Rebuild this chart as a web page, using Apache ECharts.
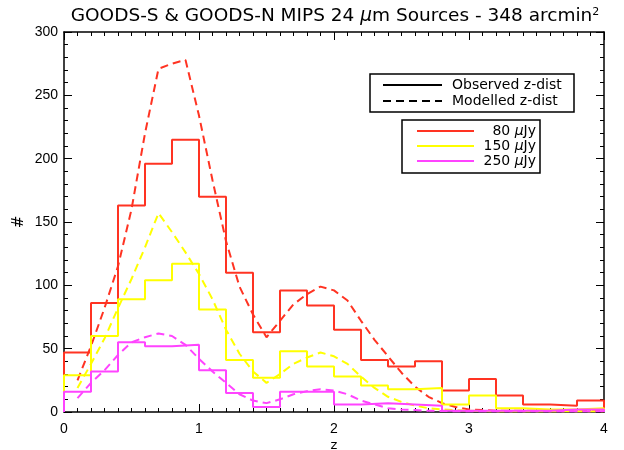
<!DOCTYPE html>
<html>
<head>
<meta charset="utf-8">
<script src="https://cdn.jsdelivr.net/npm/echarts@6/dist/echarts.min.js"></script>
<style>
  html, body { margin: 0; padding: 0; background: #fff; }
  #chart { width: 624px; height: 450px; }
</style>
</head>
<body>
<div id="chart"></div>
<script>
// Redshift bins (left edges, width 0.2) for the observed histograms
var binEdges = [0.0, 0.2, 0.4, 0.6, 0.8, 1.0, 1.2, 1.4, 1.6, 1.8, 2.0,
                2.2, 2.4, 2.6, 2.8, 3.0, 3.2, 3.4, 3.6, 3.8, 4.0];

// Observed counts per bin, by 24 um flux limit
var obs80  = [47, 86, 163, 196, 215, 170, 110, 63, 96, 84, 65, 41, 36, 40, 17, 26, 13, 6, 5, 9];
var obs150 = [29, 60, 89, 104, 117, 81, 41, 27, 48, 36, 28, 21, 18, 19, 6, 13, 3, 2, 2, 3];
var obs250 = [16, 32, 55, 52, 53, 33, 15, 4, 16, 16, 6, 7, 6, 5, 1, 1, 1, 1, 2, 2];

// Model redshift grid and predicted counts
var zModel = [0.1, 0.2, 0.3, 0.4, 0.5, 0.6, 0.7, 0.8, 0.9, 1.0,
              1.1, 1.2, 1.3, 1.4, 1.5, 1.6, 1.7, 1.8, 1.9, 2.0,
              2.1, 2.2, 2.3, 2.4, 2.5, 2.6, 2.7, 2.8, 2.9, 3.0,
              3.1, 3.2, 3.3, 3.4, 3.5, 3.6, 3.7, 3.8, 3.9, 4.0];
var mod80  = [25, 52, 82, 115, 160, 220, 271, 275, 278, 234,
              183, 135, 99, 77, 59, 72, 85, 93, 99, 96,
              88, 72, 57, 44, 31, 20, 12, 7, 4, 2,
              1.5, 1, 1, 1, 1, 1, 1, 1, 1, 1];
var mod150 = [19, 38, 58, 82, 105, 130, 157, 142, 126, 109,
              89, 65, 46, 32, 23, 30, 38, 43, 47, 44,
              38, 28, 19, 12, 8, 5, 3, 2, 1.5, 1,
              0.8, 0.6, 0.5, 0.5, 0.5, 0.5, 0.5, 0.5, 0.5, 0.5];
var mod250 = [11, 23, 33, 45, 55, 59, 62, 60, 53, 42,
              32, 23, 14, 9, 7, 10, 14, 16.5, 18, 17,
              14, 9, 6, 3, 2, 1.5, 1, 0.8, 0.6, 0.5,
              0.5, 0.5, 0.5, 0.5, 0.5, 0.5, 0.5, 0.5, 0.5, 0.5];

var xTicks = [0, 1, 2, 3, 4];
var yTicks = [0, 50, 100, 150, 200, 250, 300];

var RED = '#ff3322', YELLOW = '#ffff00', MAGENTA = '#ff44ff';
var NUM_FONT = 'Liberation Sans';
var TXT_FONT = 'DejaVu Sans';

// Build a closed step outline: start at zero, one level per bin, drop back at the end
function stepData(counts) {
  var pts = [[binEdges[0], 0]];
  for (var i = 0; i < counts.length; i++) pts.push([binEdges[i], counts[i]]);
  pts.push([binEdges[binEdges.length - 1], counts[counts.length - 1]]);
  pts.push([binEdges[binEdges.length - 1], 0]);
  return pts;
}
function curveData(vals) {
  return zModel.map(function (z, i) { return [z, vals[i]]; });
}

function obsSeries(counts, color) {
  return {
    type: 'line', step: 'end', data: stepData(counts), symbol: 'none',
    lineStyle: { color: color, width: 2 }, animation: false
  };
}
function modSeries(vals, color) {
  return {
    type: 'line', data: curveData(vals), symbol: 'none',
    lineStyle: { color: color, width: 2, type: [8, 5] }, animation: false
  };
}

var tickStyle = { color: '#000', width: 1 };
function xAxisDef(pos, labels) {
  return {
    type: 'value', position: pos, min: 0, max: 4, interval: 1,
    axisLine: { show: true, onZero: false, lineStyle: { color: '#000', width: 1.5 } },
    axisTick: { show: true, inside: true, length: 8, lineStyle: tickStyle },
    minorTick: { show: true, splitNumber: 10, length: 4, lineStyle: tickStyle },
    splitLine: { show: false },
    axisLabel: {
      show: labels, color: '#000', fontFamily: NUM_FONT, fontSize: 14, margin: 10,
      formatter: function (v) { return xTicks.indexOf(v) >= 0 ? String(v) : ''; }
    },
    name: labels ? 'z' : '', nameLocation: 'middle', nameGap: 27, nameMoveOverlap: false,
    nameTextStyle: { color: '#000', fontFamily: TXT_FONT, fontSize: 13 }
  };
}
function yAxisDef(pos, labels) {
  return {
    type: 'value', position: pos, min: 0, max: 300, interval: 50,
    axisLine: { show: true, onZero: false, lineStyle: { color: '#000', width: 1.5 } },
    axisTick: { show: true, inside: true, length: 8, lineStyle: tickStyle },
    minorTick: { show: true, splitNumber: 5, length: 4, lineStyle: tickStyle },
    splitLine: { show: false },
    axisLabel: {
      show: labels, color: '#000', fontFamily: NUM_FONT, fontSize: 14, margin: 6,
      formatter: function (v) { return yTicks.indexOf(v) >= 0 ? String(v) : ''; }
    },
    name: labels ? '#' : '', nameLocation: 'middle', nameGap: 37, nameRotate: 90, nameMoveOverlap: false,
    nameTextStyle: { color: '#000', fontFamily: TXT_FONT, fontSize: 15 }
  };
}

// Legend panels
var txt = { fill: '#000', font: '14px "' + TXT_FONT + '"', textVerticalAlign: 'middle' };
var muRich = { mu: { fontStyle: 'italic', fontFamily: TXT_FONT, fontSize: 14 } };
function legendLine(x1, x2, y, color, dashed) {
  return {
    type: 'line', shape: { x1: x1, y1: y, x2: x2, y2: y },
    style: { stroke: color, lineWidth: 2, lineDash: dashed ? [8, 5] : null }
  };
}
function legendText(x, y, text, align) {
  return {
    type: 'text', x: x, y: y,
    style: Object.assign({ text: text, textAlign: align || 'left', rich: muRich }, txt)
  };
}

var graphics = [
  { type: 'rect', shape: { x: 370, y: 74, width: 204, height: 38 },
    style: { fill: '#fff', stroke: '#000', lineWidth: 1.5 } },
  legendLine(383, 442, 85, '#000', false),
  legendText(452, 85, 'Observed z-dist'),
  legendLine(383, 442, 101, '#000', true),
  legendText(452, 101, 'Modelled z-dist'),

  { type: 'rect', shape: { x: 402, y: 120, width: 138, height: 53 },
    style: { fill: '#fff', stroke: '#000', lineWidth: 1.5 } },
  legendLine(417, 474, 131, RED, false),
  legendText(536, 131, '80 {mu|μ}Jy', 'right'),
  legendLine(417, 474, 146, YELLOW, false),
  legendText(536, 146, '150 {mu|μ}Jy', 'right'),
  legendLine(417, 474, 161, MAGENTA, false),
  legendText(536, 161, '250 {mu|μ}Jy', 'right')
];

var chart = echarts.init(document.getElementById('chart'), null, { renderer: 'canvas' });
chart.setOption({
  backgroundColor: '#fff',
  animation: false,
  title: {
    text: 'GOODS-S & GOODS-N MIPS 24 {mu|μ}m Sources - 348 arcmin{sup|2}',
    left: 330, textAlign: 'center', top: 2,
    textStyle: {
      color: '#000', fontFamily: TXT_FONT, fontSize: 18.5, fontWeight: 'normal',
      rich: {
        mu: { fontStyle: 'italic', fontFamily: TXT_FONT, fontSize: 18.5, color: '#000' },
        sup: { fontSize: 11, fontFamily: TXT_FONT, color: '#000', verticalAlign: 'top', padding: [0, 0, 8, 0] }
      }
    }
  },
  grid: { left: 64, right: 20, top: 32, bottom: 38, containLabel: false, outerBoundsMode: 'none' },
  xAxis: [xAxisDef('bottom', true), xAxisDef('top', false)],
  yAxis: [yAxisDef('left', true), yAxisDef('right', false)],
  series: [
    obsSeries(obs80, RED),
    modSeries(mod80, RED),
    obsSeries(obs150, YELLOW),
    modSeries(mod150, YELLOW),
    obsSeries(obs250, MAGENTA),
    modSeries(mod250, MAGENTA)
  ],
  graphic: graphics
});
</script>
</body>
</html>
